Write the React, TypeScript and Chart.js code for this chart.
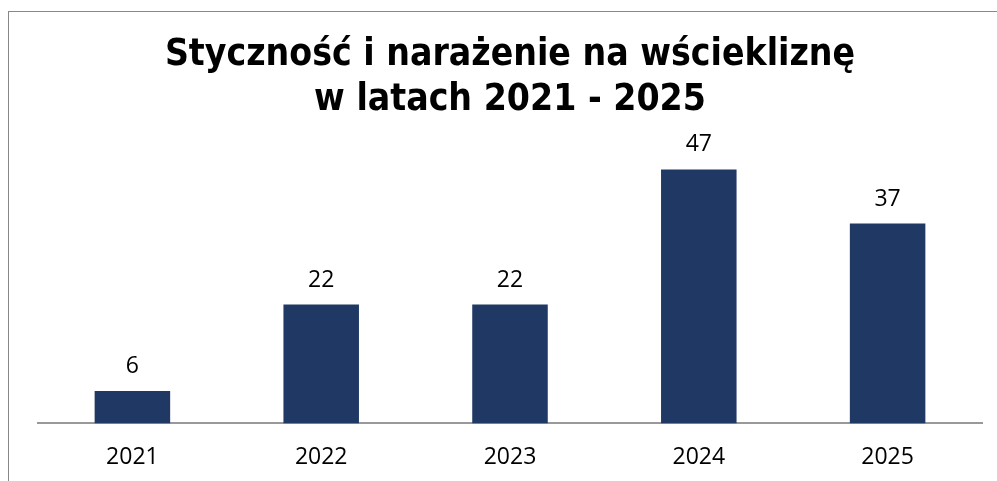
import React, { useEffect, useRef } from "react";
import { Chart, registerables } from "chart.js";

Chart.register(...registerables);

const categories = ["2021", "2022", "2023", "2024", "2025"];
const values = [6, 22, 22, 47, 37];
const titleLines = ["Styczność i narażenie na wściekliznę", "w latach 2021 - 2025"];

const BAR_COLOR = "#203864";

const valueLabels = {
  id: "valueLabels",
  afterDatasetsDraw(chart: any) {
    const ctx = chart.ctx;
    const meta = chart.getDatasetMeta(0);
    ctx.save();
    ctx.font = "23px 'Open Sans'";
    ctx.fillStyle = "#000";
    ctx.textAlign = "center";
    ctx.textBaseline = "alphabetic";
    meta.data.forEach((bar: any, i: number) => {
      ctx.fillText(String(chart.data.datasets[0].data[i]), bar.x, bar.y - 18);
    });
    ctx.restore();
  },
};

export default function App() {
  const ref = useRef<HTMLCanvasElement | null>(null);
  useEffect(() => {
    if (!ref.current) return;
    const chart = new Chart(ref.current, {
      type: "bar",
      data: {
        labels: categories,
        datasets: [
          {
            data: values,
            backgroundColor: BAR_COLOR,
            barPercentage: 0.4,
            categoryPercentage: 1,
          },
        ],
      },
      options: {
        responsive: false,
        animation: false,
        layout: { padding: { left: 38, right: 15, top: 0, bottom: -10 } },
        plugins: {
          legend: { display: false },
          tooltip: { enabled: false },
          title: {
            display: true,
            text: titleLines,
            color: "#000",
            font: { family: "'DejaVu Sans Condensed', 'DejaVu Sans'", size: 37, weight: "bold", lineHeight: 1.22 },
            padding: { top: 33, bottom: 30 },
          },
        },
        scales: {
          x: {
            grid: { display: true, drawOnChartArea: false, drawTicks: false },
            border: { display: true, color: "#999999", width: 2 },
            ticks: { color: "#000", font: { family: "'Open Sans'", size: 23 }, padding: 20 },
          },
          y: {
            display: false,
            min: 0,
            max: 50,
          },
        },
      },
      plugins: [valueLabels],
    });
    return () => chart.destroy();
  }, []);
  return (
    <div style={{ position: "absolute", left: 0, top: 0, width: 997, height: 481, background: "#fff" }}>
      <div
        style={{
          position: "absolute",
          left: 8,
          top: 11,
          width: 1000,
          height: 480,
          borderLeft: "1px solid #888",
          borderTop: "1px solid #888",
        }}
      />
      <canvas ref={ref} width={997} height={481} style={{ position: "absolute", left: 0, top: 0 }} />
    </div>
  );
}
